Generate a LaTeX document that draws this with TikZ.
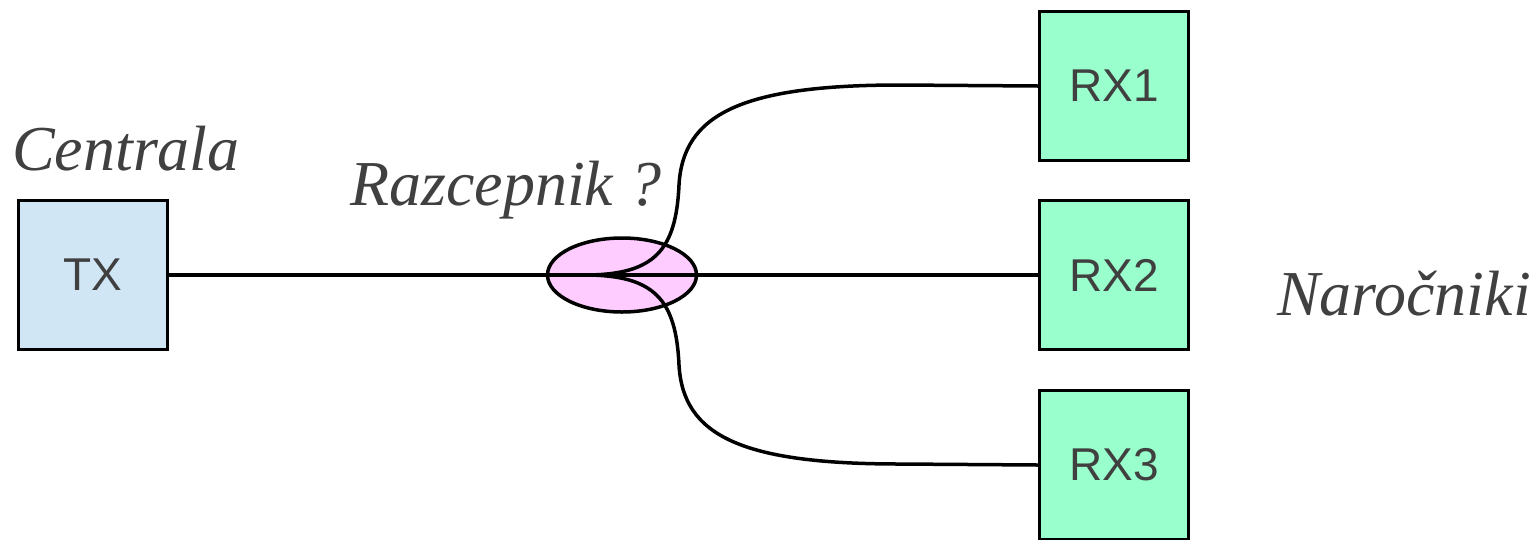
\documentclass[tikz,border=0pt]{standalone}
\usepackage{fontspec}
\setsansfont{Liberation Sans}
\newfontfamily\lserifit{Liberation Serif Italic}
\usetikzlibrary{shapes.geometric}
\definecolor{txfill}{RGB}{208,230,245}
\definecolor{rxfill}{RGB}{153,255,204}
\definecolor{splfill}{RGB}{255,204,255}
\definecolor{txtgray}{RGB}{64,64,64}
\begin{document}
\begin{tikzpicture}[x=1pt,y=-1pt,
  boxnode/.style={draw=black,line width=3.5pt,rectangle,minimum width=149pt,minimum height=149pt,inner sep=0pt,
    font=\sffamily\fontsize{46}{50}\selectfont,text=txtgray},
  lbl/.style={font=\lserifit\fontsize{64}{70}\selectfont,text=txtgray,inner sep=0pt,anchor=base west},
  fiber/.style={line width=3.5pt,draw=black}]
\useasboundingbox (0,0) rectangle (1537,539);
\node[boxnode,fill=txfill] (tx) at (93,275) {TX};
\node[boxnode,fill=rxfill] (rx1) at (1114,86) {RX1};
\node[boxnode,fill=rxfill] (rx2) at (1114,275) {RX2};
\node[boxnode,fill=rxfill] (rx3) at (1114,465) {RX3};
\node[ellipse,draw=black,line width=3.5pt,fill=splfill,minimum width=149pt,minimum height=74pt,inner sep=0pt] (spl) at (622,275) {};
\coordinate (s) at (585,275);
\coordinate (u) at (679,185);
\coordinate (d) at (679,365);
\draw[fiber] (tx.east) -- (rx2.west);
\draw[fiber] (s) .. controls (655,275) and (676,250) .. (u)
  .. controls (683,115) and (740,85) .. (900,85) -- (rx1.west);
\draw[fiber] (s) .. controls (655,275) and (676,300) .. (d)
  .. controls (683,435) and (740,464) .. (900,464) -- (rx3.west);
\node[lbl] (centrala) at (12,170) {Centrala};
\node[lbl] (razc) at (350,205) {Razcepnik ?};
\node[lbl] (naro) at (1277,315) {Naročniki};
\end{tikzpicture}
\end{document}
